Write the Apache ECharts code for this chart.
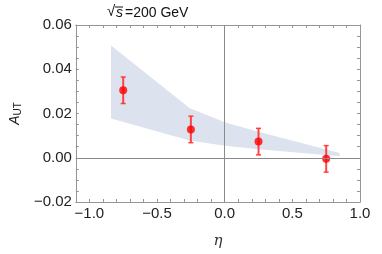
<!DOCTYPE html>
<html><head><meta charset="utf-8">
<script src="https://cdn.jsdelivr.net/npm/echarts@6/dist/echarts.min.js"></script>
<style>html,body{margin:0;padding:0;background:#fff}#c{width:382px;height:254px}</style>
</head><body><div id="c"></div>
<script>
// Data
var etaPoints = [-0.75, -0.25, 0.25, 0.75];
var autValues = [0.0305, 0.0128, 0.0073, -0.0005];
var autErrors = [0.006, 0.006, 0.006, 0.006];
var bandEta   = [-0.84, -0.26, 0.0, 0.25, 0.85];
var bandUpper = [0.0507, 0.0225, 0.0160, 0.0117, 0.0021];
var bandLower = [0.0177, 0.0078, 0.0054, 0.0038, 0.0007];
var xMin = -1.1, xMax = 1.0, yMin = -0.02, yMax = 0.06;

var chart = echarts.init(document.getElementById('c'), null, {renderer:'canvas'});
var fontFam = '"Liberation Sans", Arial, sans-serif';
var frameColor = '#969696';

var bandData = bandEta.map(function(x,i){ return [x, bandUpper[i], bandLower[i]]; });
var errData = etaPoints.map(function(x,i){ return [x, autValues[i]-autErrors[i], autValues[i]+autErrors[i]]; });
var ptData = etaPoints.map(function(x,i){ return [x, autValues[i]]; });

function baseX(pos, labels){
  return {
    type:'value', position:pos, min:xMin, max:xMax, interval:0.1,
    splitLine:{show:false},
    axisLine:{show:true, onZero:false, lineStyle:{color:frameColor, width:1}},
    axisTick:{show:true, inside:true, length:3, lineStyle:{color:frameColor}},
    axisLabel:{show:labels, color:'#222', fontSize:15, fontFamily:fontFam, margin:4,
      formatter:function(v){ var r=v*2; if (Math.abs(r-Math.round(r))>1e-6) return ''; return (v<-1e-9?'\u2212':'')+Math.abs(v).toFixed(1);} }
  };
}
function baseY(pos, labels){
  return {
    type:'value', position:pos, min:yMin, max:yMax, interval:0.005,
    splitLine:{show:false},
    axisLine:{show:true, onZero:false, lineStyle:{color:frameColor, width:1}},
    axisTick:{show:true, inside:true, length:3, lineStyle:{color:frameColor}},
    axisLabel:{show:labels, color:'#222', fontSize:15, fontFamily:fontFam, margin:4,
      formatter:function(v){ var r=v/0.02; if (Math.abs(r-Math.round(r))>1e-6) return ''; return (v<-1e-9?'\u2212':'')+Math.abs(v).toFixed(2);} }
  };
}
var xb = baseX('bottom', true);
xb.name = 'η'; xb.nameLocation='middle'; xb.nameGap=32;
xb.nameTextStyle = {fontFamily:'"DejaVu Serif", serif', fontStyle:'italic', fontSize:15, color:'#333'};
var yl = baseY('left', true);
yl.name = '{a|A}{b|UT}'; yl.nameLocation='middle'; yl.nameGap=46; yl.nameRotate=90;
yl.nameTextStyle = {rich:{a:{fontFamily:fontFam, fontStyle:'italic', fontSize:14, color:'#222'}, b:{fontFamily:fontFam, fontSize:10, color:'#222', padding:[6,0,0,0]}}};
var xt = baseX('top', false);
var yr = baseY('right', false);

chart.setOption({
  animation:false,
  grid:{left:63, right:22, top:25, bottom:45, containLabel:false},
  graphic:[
    {type:'text', left:107, top:4, style:{text:'√', font:'15px ' + fontFam, fill:'#111'}},
    {type:'line', shape:{x1:115, y1:7, x2:123, y2:7}, style:{stroke:'#111', lineWidth:1}},
    {type:'text', left:116, top:6, style:{text:'s', font:'italic 14px ' + fontFam, fill:'#111'}},
    {type:'text', left:125, top:6, style:{text:'=200 GeV', font:'14px ' + fontFam, fill:'#111'}}
  ],
  xAxis:[xb, xt],
  yAxis:[yl, yr],
  series:[
    {
      type:'custom', xAxisIndex:0, yAxisIndex:0, z:1,
      renderItem:function(params, api){
        if (params.dataIndex !== 0) return null;
        var pts = [];
        for (var i=0;i<bandData.length;i++) pts.push(api.coord([bandData[i][0], bandData[i][1]]));
        for (var j=bandData.length-1;j>=0;j--) pts.push(api.coord([bandData[j][0], bandData[j][2]]));
        return {type:'polygon', shape:{points:pts}, style:{fill:'#dde3ee', stroke:null}};
      },
      data:bandData, encode:{x:0, y:[1,2]}, silent:true
    },
    {
      type:'line', xAxisIndex:0, yAxisIndex:0, data:[], symbol:'none', z:2,
      markLine:{symbol:'none', silent:true, label:{show:false},
        lineStyle:{color:'#8a8a8a', width:1, type:'solid'},
        data:[{xAxis:0}, {yAxis:0}]}
    },
    {
      type:'custom', xAxisIndex:0, yAxisIndex:0, z:3,
      renderItem:function(params, api){
        var x = api.value(0), lo = api.value(1), hi = api.value(2);
        var p1 = api.coord([x, lo]), p2 = api.coord([x, hi]);
        var c = 'rgba(255,40,40,0.85)';
        return {type:'group', children:[
          {type:'line', shape:{x1:p1[0], y1:p1[1], x2:p2[0], y2:p2[1]}, style:{stroke:c, lineWidth:2}},
          {type:'line', shape:{x1:p1[0]-2.5, y1:p1[1], x2:p1[0]+2.5, y2:p1[1]}, style:{stroke:c, lineWidth:1.5}},
          {type:'line', shape:{x1:p2[0]-2.5, y1:p2[1], x2:p2[0]+2.5, y2:p2[1]}, style:{stroke:c, lineWidth:1.5}}
        ]};
      },
      data:errData, encode:{x:0, y:[1,2]}
    },
    {
      type:'scatter', xAxisIndex:0, yAxisIndex:0, z:4,
      symbol:'circle', symbolSize:8, itemStyle:{color:'#ff0000'},
      data:ptData
    }
  ]
});
</script></body></html>
